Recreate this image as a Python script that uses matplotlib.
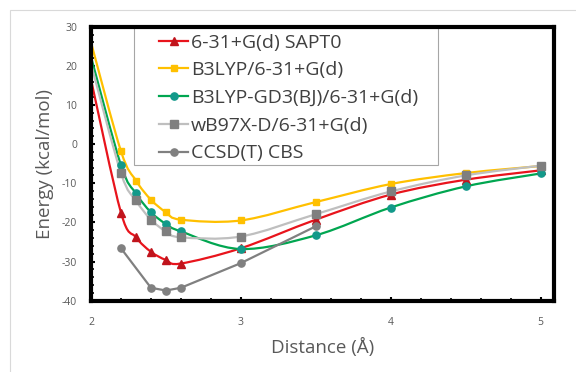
import matplotlib
matplotlib.use("Agg")
import matplotlib.pyplot as plt
import numpy as np
from matplotlib.path import Path
from matplotlib.patches import PathPatch, Rectangle
from matplotlib.lines import Line2D
from matplotlib.ticker import MultipleLocator

plt.rcParams['font.family'] = ['Open Sans', 'DejaVu Sans']

# ---- data ----
x_dist = [2.0, 2.2, 2.3, 2.4, 2.5, 2.6, 3.0, 3.5, 4.0, 4.5, 5.0]
sapt0 = [16.5, -17.5, -23.8, -27.5, -29.6, -30.5, -26.6, -19.3, -12.9, -9.1, -6.7]
b3lyp = [26.0, -1.8, -9.3, -14.2, -17.4, -19.3, -19.5, -14.8, -10.2, -7.4, -5.6]
b3lyp_gd3 = [22.3, -5.4, -12.6, -17.4, -20.4, -22.3, -26.8, -23.3, -16.2, -10.8, -7.5]
wb97xd = [20.5, -7.4, -14.4, -19.3, -22.3, -23.8, -23.6, -17.9, -12.1, -8.0, -5.5]
x_ccsd = [2.2, 2.4, 2.5, 2.6, 3.0, 3.5]
ccsd = [-26.6, -36.7, -37.4, -36.7, -30.4, -21.0]

labels = ["6-31+G(d) SAPT0", "B3LYP/6-31+G(d)", "B3LYP-GD3(BJ)/6-31+G(d)",
          "wB97X-D/6-31+G(d)", "CCSD(T) CBS"]
x_ticks = [2, 3, 4, 5]
y_ticks = [30, 20, 10, 0, -10, -20, -30, -40]


def smooth_path(xs, ys):
    """Excel-style smoothed line: Catmull-Rom Bezier through the data points."""
    P = np.column_stack([xs, ys]).astype(float)
    n = len(P)
    verts = [P[0]]
    codes = [Path.MOVETO]
    for i in range(n - 1):
        p0 = P[i - 1] if i > 0 else P[i]
        p1 = P[i]
        p2 = P[i + 1]
        p3 = P[i + 2] if i + 2 < n else P[i + 1]
        c1 = p1 + (p2 - p0) / 6.0
        c2 = p2 - (p3 - p1) / 6.0
        verts += [c1, c2, p2]
        codes += [Path.CURVE4] * 3
    return Path(np.array(verts), codes)


fig = plt.figure(figsize=(5.76, 3.72), dpi=100)
fig.patch.set_facecolor('white')
# chart-area border (light gray)
fig.add_artist(Rectangle((10 / 576, -0.1), 1.2, (372 - 10) / 372 + 0.1,
                         transform=fig.transFigure, fill=False,
                         edgecolor='#D9D9D9', linewidth=0.8))

ax = fig.add_axes([91 / 576, 1 - 300.7 / 372, (554 - 91) / 576, (300.7 - 26.7) / 372])

LW = 1.6
series = [
    dict(y=sapt0, line='#E8141C', mc='#C0141C', marker='^', ms=5.5),
    dict(y=b3lyp, line='#FFC000', mc='#FFC000', marker='s', ms=5),
    dict(y=b3lyp_gd3, line='#00A650', mc='#12998A', marker='o', ms=5.2),
    dict(y=wb97xd, line='#BFBFBF', mc='#7F7F7F', marker='s', ms=5.5),
]

handles = []
for s, lab in zip(series, labels[:4]):
    patch = PathPatch(smooth_path(x_dist, s['y']), facecolor='none',
                      edgecolor=s['line'], linewidth=LW, transform=ax.transData,
                      zorder=2)
    ax.add_patch(patch)
    ax.plot(x_dist[1:], s['y'][1:], linestyle='none', marker=s['marker'],
            markersize=s['ms'], markerfacecolor=s['mc'], markeredgecolor=s['mc'],
            zorder=3)
    handles.append(Line2D([], [], color=s['line'], linewidth=LW, marker=s['marker'],
                          markersize=s['ms'], markerfacecolor=s['mc'],
                          markeredgecolor=s['mc']))

ax.plot(x_ccsd, ccsd, color='#808080', linewidth=LW, marker='o', markersize=5.2,
        markerfacecolor='#808080', markeredgecolor='#808080', zorder=3)
handles.append(Line2D([], [], color='#808080', linewidth=LW, marker='o',
                      markersize=5.2, markerfacecolor='#808080',
                      markeredgecolor='#808080'))

ax.set_xlim(2, 5.09)
ax.set_ylim(-40, 30)
ax.set_xticks(x_ticks)
ax.set_xticklabels([str(v) for v in x_ticks])
ax.set_yticks(y_ticks)
ax.set_yticklabels([str(v) for v in y_ticks])
ax.xaxis.set_minor_locator(MultipleLocator(0.2))
ax.yaxis.set_minor_locator(MultipleLocator(2))

for sp in ax.spines.values():
    sp.set_linewidth(3)
    sp.set_color('black')
    sp.set_zorder(6)

ax.tick_params(axis='both', which='major', direction='in', length=3, width=1.5,
               color='black', labelsize=7.5, labelcolor='#595959')
ax.tick_params(axis='x', which='major', pad=12)
ax.tick_params(axis='y', which='major', pad=10)
ax.tick_params(axis='both', which='minor', direction='in', length=2, width=1.2,
               color='black')

ax.set_xlabel("Distance (Å)", fontsize=13.5, color='#595959', labelpad=7)
ax.set_ylabel("Energy (kcal/mol)", fontsize=13.5, color='#595959', labelpad=6)

# legend frame drawn as a patch so the handle inset matches the reference
ax.add_patch(Rectangle((0.093, 0.495), 0.7495 - 0.093, 0.505, transform=ax.transAxes,
                       facecolor='white', edgecolor='#A6A6A6', linewidth=0.8,
                       zorder=4, clip_on=False))
leg = ax.legend(handles, labels, loc='upper left', bbox_to_anchor=(0.147, 0.975),
                fontsize=14, frameon=False, handlelength=1.5, handletextpad=0.15,
                labelspacing=0.5, borderpad=0, borderaxespad=0)
leg.set_zorder(5)
for t in leg.get_texts():
    t.set_color('#404040')

fig.savefig("out.png", dpi=100, facecolor='white')
